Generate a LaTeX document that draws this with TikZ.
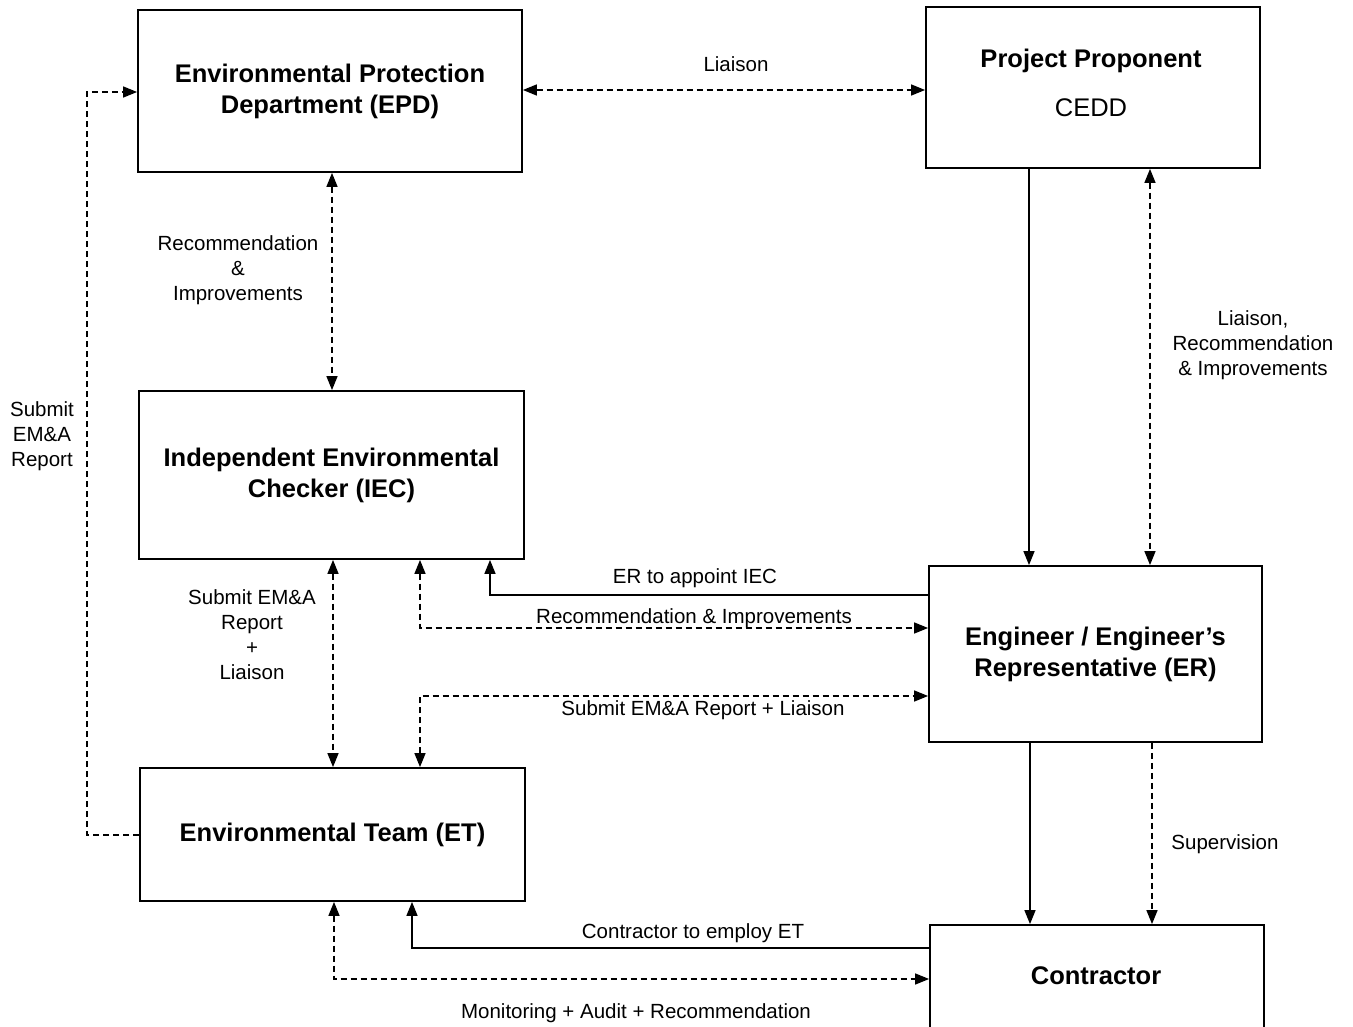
\documentclass[tikz,border=0pt]{standalone}
\usepackage{fontspec}
\setmainfont{Liberation Sans}
\usetikzlibrary{arrows.meta}
\begin{document}
\begin{tikzpicture}[x=1pt,y=-1pt,
  >={Triangle[length=14pt,width=11pt]},
  boxshape/.style={draw,line width=1.8pt,inner sep=0pt},
  box/.style={boxshape,align=center,font=\fontsize{25.5}{31}\selectfont\bfseries},
  title/.style={inner sep=0pt,align=center,font=\fontsize{25.5}{31}\selectfont\bfseries},
  lbl/.style={inner sep=0pt,align=center,font=\fontsize{20.5}{25}\selectfont},
  conn/.style={line width=1.5pt,->},
  dconn/.style={line width=1.5pt,dash pattern=on 6pt off 4pt}]
\useasboundingbox (0,0) rectangle (1353,1027);
% boxes
\node[box,minimum width=384pt,minimum height=162pt] (epd) at (330,91) {Environmental Protection\\Department (EPD)};
\node[boxshape,minimum width=334pt,minimum height=161pt] (pp) at (1093,87.5) {};
\node[title] (pptext) at (1091,82.5) {Project Proponent\\[18pt]\mdseries CEDD};
\node[box,minimum width=385pt,minimum height=168pt] (iec) at (331.5,475) {Independent Environmental\\Checker (IEC)};
\node[box,minimum width=333pt,minimum height=176pt] (er) at (1095.5,654) {Engineer / Engineer's\\Representative (ER)};
\node[box,minimum width=385pt,minimum height=133pt] (et) at (332.5,834.5) {Environmental Team (ET)};
\node[boxshape,minimum width=334pt,minimum height=104pt] (con) at (1097,977) {};
\node[title] (context) at (1096,976) {Contractor};
% connectors
\draw[dconn,<->] (epd.east |- 0,90) -- (pp.west |- 0,90);
\node[lbl] (l1) at (736,64) {Liaison};
\draw[dconn,<->] (epd.south -| 332,0) -- (iec.north -| 332,0);
\node[lbl] (l2) at (238,270) {Recommendation\\\&\\Improvements};
\draw[dconn,->] (et.west |- 0,835) -| (87,92) -- (epd.west |- 0,92);
\node[lbl] (l3) at (42,436) {Submit\\EM\&A\\Report};
\draw[conn] (pp.south -| 1029,0) -- (er.north -| 1029,0);
\draw[dconn,<->] (pp.south -| 1150,0) -- (er.north -| 1150,0);
\node[lbl] (l4) at (1253,345) {Liaison,\\Recommendation\\\& Improvements};
\draw[conn] (er.west |- 0,595) -| (iec.south -| 490,0);
\node[lbl] (l5) at (695,578) {ER to appoint IEC};
\draw[dconn,<->] (iec.south -| 420,0) |- (er.west |- 0,628);
\node[lbl] (l6) at (694,618) {Recommendation \& Improvements};
\draw[dconn,<->] (et.north -| 420,0) |- (er.west |- 0,696);
\node[lbl] (l7) at (703,710) {Submit EM\&A Report + Liaison};
\draw[dconn,<->] (iec.south -| 333,0) -- (et.north -| 333,0);
\node[lbl] (l8) at (252,635) {Submit EM\&A\\Report\\+\\Liaison};
\draw[conn] (er.south -| 1030,0) -- (con.north -| 1030,0);
\draw[dconn,->] (er.south -| 1152,0) -- (con.north -| 1152,0);
\node[lbl] (l9) at (1225,844) {Supervision};
\draw[conn] (con.west |- 0,948) -| (et.south -| 412,0);
\node[lbl] (l10) at (693,933) {Contractor to employ ET};
\draw[dconn,<->] (et.south -| 334,0) |- (con.west |- 0,979);
\node[lbl] (l11) at (636,1013) {Monitoring + Audit + Recommendation};
\end{tikzpicture}
\end{document}
